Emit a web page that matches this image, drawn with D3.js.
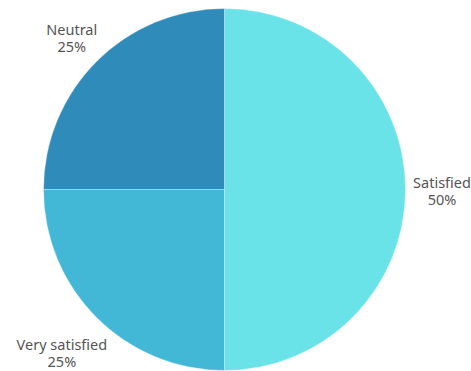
<!DOCTYPE html>
<html>
<head>
<meta charset="utf-8">
<script src="https://cdn.jsdelivr.net/npm/d3@7"></script>
<style>
  html, body { margin: 0; padding: 0; background: #fff; }
  svg { display: block; }
  .lbl { font-family: "Noto Sans", "Open Sans", sans-serif; font-size: 14.5px; fill: #555; }
</style>
</head>
<body>
<svg id="chart" width="471" height="371"></svg>
<script>
// Satisfaction survey breakdown
const categories = ["Satisfied", "Very satisfied", "Neutral"];
const shares = [50, 25, 25];
const colors = ["#6ae3e8", "#43b7d6", "#2e8bba"];
// distance of each label from the pie centre
const labelRadii = [217.5, 230, 216];

const cx = 224.5, cy = 189.5, radius = 181;

const svg = d3.select("#chart");
const g = svg.append("g").attr("transform", `translate(${cx},${cy})`);

const data = categories.map((c, i) => ({
  name: c, value: shares[i], color: colors[i], labelR: labelRadii[i]
}));

const pie = d3.pie().value(d => d.value).sort(null);
const arc = d3.arc().innerRadius(0).outerRadius(radius);

const arcs = pie(data);

g.selectAll("path.slice")
  .data(arcs)
  .join("path")
  .attr("class", "slice")
  .attr("d", arc)
  .attr("fill", d => d.data.color)
  .attr("stroke", "rgba(255,255,255,0.35)")
  .attr("stroke-width", 1);

// Labels outside the rim, along each slice's bisector
const fmt = d => d3.format(".0f")(d.data.value) + "%";

const labels = g.selectAll("g.label")
  .data(arcs)
  .join("g")
  .attr("class", "label")
  .attr("transform", d => {
    const a = (d.startAngle + d.endAngle) / 2;
    const r = d.data.labelR;
    return `translate(${Math.sin(a) * r},${-Math.cos(a) * r})`;
  });

labels.append("text")
  .attr("class", "lbl")
  .attr("text-anchor", "middle")
  .attr("y", -2)
  .text(d => d.data.name);

labels.append("text")
  .attr("class", "lbl")
  .attr("text-anchor", "middle")
  .attr("y", 15)
  .text(fmt);
</script>
</body>
</html>
